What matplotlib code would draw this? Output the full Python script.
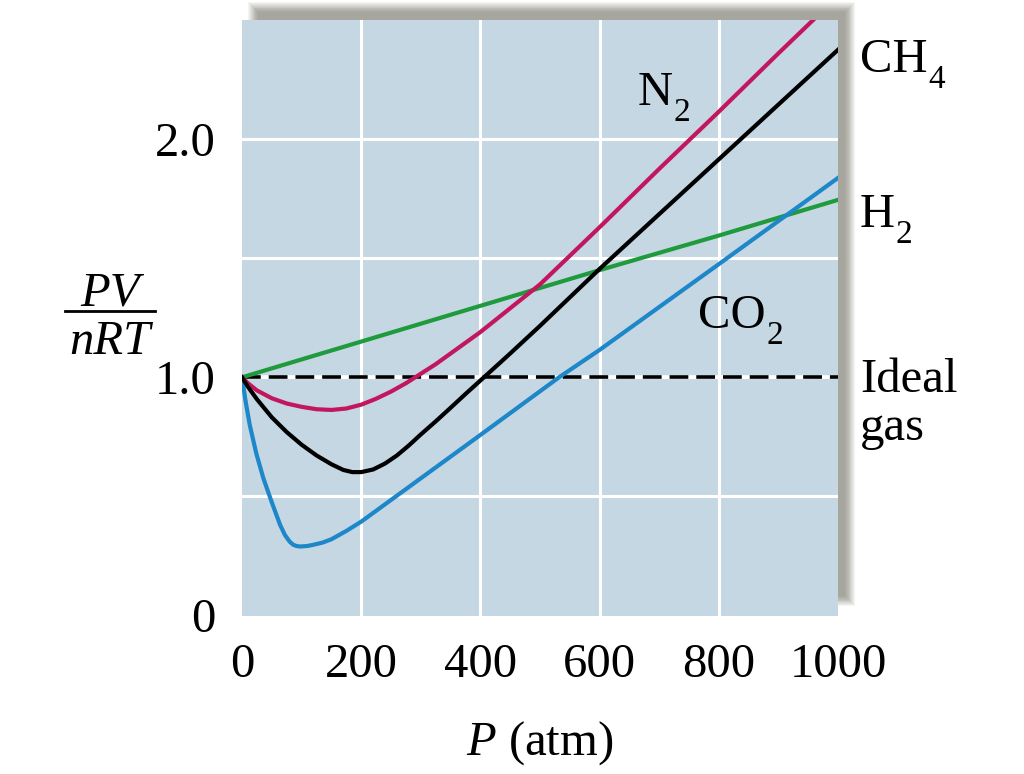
import matplotlib
matplotlib.use("Agg")
import matplotlib.pyplot as plt
from matplotlib.patches import Rectangle

plt.rcParams["font.family"] = ["Liberation Serif", "DejaVu Serif"]
plt.rcParams["mathtext.fontset"] = "custom"
plt.rcParams["mathtext.rm"] = "Liberation Serif"
plt.rcParams["mathtext.it"] = "Liberation Serif:italic"

# values: pressure (atm) and PV/nRT
p_n2 = [0, 10, 25, 50, 75, 100, 125, 150, 175, 200, 225, 250, 275, 300, 325, 350, 375, 400,
        425, 450, 475, 500, 600, 700, 800, 900, 1000]
z_n2 = [1.0, 0.975, 0.945, 0.912, 0.89, 0.876, 0.866, 0.863, 0.869, 0.885, 0.91, 0.94, 0.975,
        1.015, 1.055, 1.10, 1.145, 1.19, 1.24, 1.29, 1.34, 1.39, 1.63, 1.875, 2.115, 2.36, 2.60]

p_ch4 = [0, 10, 25, 50, 75, 100, 125, 150, 170, 185, 200, 220, 240, 260, 280, 300, 325, 350,
         375, 406, 450, 500, 600, 700, 800, 900, 1000]
z_ch4 = [1.0, 0.96, 0.908, 0.832, 0.77, 0.717, 0.672, 0.635, 0.611, 0.602, 0.602, 0.613, 0.638,
         0.672, 0.714, 0.76, 0.815, 0.872, 0.93, 1.0, 1.10, 1.216, 1.455, 1.685, 1.915, 2.145, 2.375]

p_h2 = [0, 200, 400, 600, 800, 1000]
z_h2 = [1.0, 1.15, 1.30, 1.45, 1.595, 1.745]

p_co2 = [0, 6, 13, 24, 36, 50, 64, 72, 80, 86, 91, 96, 100, 110, 120, 135, 150, 175, 200, 300,
         400, 532, 600, 800, 1000]
z_co2 = [1.0, 0.90, 0.80, 0.68, 0.575, 0.475, 0.38, 0.338, 0.31, 0.297, 0.292, 0.29, 0.29, 0.292,
         0.297, 0.306, 0.32, 0.355, 0.394, 0.576, 0.758, 1.0, 1.115, 1.475, 1.837]

x_grid = [200, 400, 600, 800]
y_grid = [0.5, 1.0, 1.5, 2.0]
x_ticks = [0, 200, 400, 600, 800, 1000]
y_ticks = [0, 1.0, 2.0]
y_tick_labels = ["0", "1.0", "2.0"]

W, H = 1024, 774


def fx(px):
    return px / W


def fy(py):
    return 1 - py / H


fig = plt.figure(figsize=(10.24, 7.74), dpi=100)
ax = fig.add_axes([fx(242), fy(615.5), fx(838) - fx(242), fy(20) - fy(615.5)])
ax.set_facecolor("#c4d7e3")

# soft drop shadow up and to the right of the plot box
for k in range(12):
    g = k * 0.9
    fig.patches.append(Rectangle((fx(258 - g), fy(596 + g)), fx(587 + 2 * g), (584 + 2 * g) / H,
                                 transform=fig.transFigure, color="#6e6e60",
                                 alpha=0.07, lw=0, zorder=-5))

for xg in x_grid:
    ax.axvline(xg, color="white", lw=2.2, zorder=1)
for yg in y_grid:
    ax.axhline(yg, color="white", lw=2.2, zorder=1)

# ideal gas: black dashes with white gaps
ax.axhline(1.0, color="white", lw=2.6, zorder=2)
ax.axhline(1.0, color="black", lw=2.6, dashes=(5.2, 2.2), zorder=2)

ax.plot(p_h2, z_h2, color="#1f9a3c", lw=3, zorder=3)
ax.plot(p_co2, z_co2, color="#1d87c9", lw=3, zorder=3)
ax.plot(p_n2, z_n2, color="#c2175e", lw=3, zorder=3)
ax.plot(p_ch4, z_ch4, color="black", lw=3, zorder=4)

ax.set_xlim(0, 1000)
ax.set_ylim(0, 2.5)
ax.set_xticks(x_ticks)
ax.set_yticks(y_ticks)
ax.set_yticklabels(y_tick_labels)
ax.tick_params(length=0, labelsize=35)
ax.tick_params(axis="y", pad=19)
ax.tick_params(axis="x", pad=20)
for s in ax.spines.values():
    s.set_visible(False)

fs = 35
sub_fs = 24


def label(px, py, main, sub=None):
    t = fig.text(fx(px), fy(py), main, fontsize=fs, va="baseline", ha="left")
    if sub:
        ax.annotate(sub, xy=(1, 0), xycoords=t, xytext=(0.5, -4.5),
                    textcoords="offset points", fontsize=sub_fs,
                    va="baseline", ha="left", annotation_clip=False)
    return t


label(860, 72, "CH", "4")
label(860, 227, "H", "2")
label(860, 392, "Ideal")
label(860, 440, "gas")
label(638, 105, "N", "2")
label(698, 328, "CO", "2")

fig.text(fx(540), fy(755), r"$P$ (atm)", fontsize=fs, va="baseline", ha="center")

# PV / nRT fraction on the left
fig.text(fx(110), fy(305), "PV", fontsize=fs, style="italic", va="baseline", ha="center")
fig.text(fx(110), fy(354), "nRT", fontsize=fs, style="italic", va="baseline", ha="center")
fig.add_artist(plt.Line2D([fx(65), fx(155)], [fy(311), fy(311)], transform=fig.transFigure,
                          color="black", lw=2))

fig.savefig("out.png", dpi=100)
